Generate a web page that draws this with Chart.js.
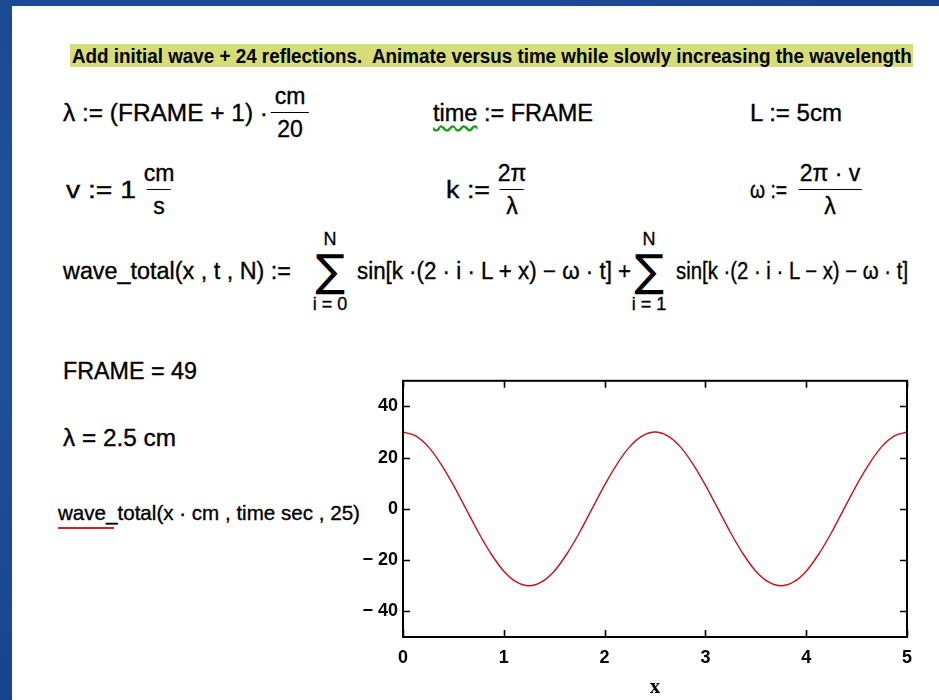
<!DOCTYPE html>
<html>
<head>
<meta charset="utf-8">
<script src="https://cdn.jsdelivr.net/npm/chart.js@4.4.0/dist/chart.umd.min.js"></script>
<style>
    html, body { margin: 0; padding: 0; }
    body {
        width: 939px; height: 700px; overflow: hidden; position: relative;
        background: radial-gradient(ellipse at 30% 40%, #2457a3 0%, #1a4a93 55%, #143f86 100%);
        font-family: "Liberation Sans", Arial, sans-serif;
    }
    #sheet { position: absolute; left: 12px; top: 6px; width: 927px; height: 694px; background: #fff; }
    .t { position: absolute; font-size: 23px; color: #000; white-space: pre; line-height: 1; transform-origin: 0 50%; transform: translateY(-50%); -webkit-text-stroke: 0.35px #000; }
    .frac { position: absolute; display: flex; flex-direction: column; align-items: center; transform: translate(-50%, -50%); font-size: 23px; -webkit-text-stroke: 0.35px #000; line-height: 1; white-space: pre; }
    .frac .num { padding-bottom: 4px; }
    .frac .den { padding-top: 5px; border-top: 1.5px solid #000; }
    .c { position: absolute; transform: translate(-50%, -50%); font-size: 18px; line-height: 1; white-space: pre; -webkit-text-stroke: 0.3px #000; }
    .sig { position: absolute; transform: translate(-50%, -50%); font-size: 44px; line-height: 1; font-family: "DejaVu Sans", sans-serif; }
    #note {
        position: absolute; left: 70px; top: 44px; width: 843px; height: 23px; background: #d5dc78;
    }
    #note span {
        position: absolute; left: 2px; top: 50%; transform-origin: 0 50%; transform: translateY(-50%);
        font-family: "Liberation Sans", Arial, sans-serif; font-weight: bold; font-size: 20px;
        line-height: 1; white-space: pre; color: #000;
    }
    #chartBox { position: absolute; left: 340px; top: 365px; width: 590px; height: 335px; }
</style>
</head>
<body>
<div id="sheet"></div>
<div id="note"><span class="fit" data-w="840">Add initial wave + 24 reflections.  Animate versus time while slowly increasing the wavelength</span></div>

<div class="t fit" data-w="205" style="left:63px; top:113px;">λ := (FRAME + 1) ·</div>
<div class="frac" style="left:290px; top:113px;"><span class="num">cm</span><span class="den"> 20 </span></div>
<div class="t fit" data-w="160" style="left:433px; top:113px;"><span style="text-decoration: underline wavy #1a9a1a; text-underline-offset: 4px;">time</span> := FRAME</div>
<div class="t fit" data-w="92" style="left:750px; top:113px;">L := 5cm</div>

<div class="t fit" data-w="70" style="left:66px; top:190px;">v := 1</div>
<div class="frac" style="left:159px; top:190px;"><span class="num">cm</span><span class="den"> s </span></div>
<div class="t fit" data-w="44" style="left:446px; top:190px;">k :=</div>
<div class="frac" style="left:512px; top:190px;"><span class="num">2π</span><span class="den"> λ </span></div>
<div class="t fit" data-w="37" style="left:750px; top:190px;">ω :=</div>
<div class="frac" style="left:830px; top:190px;"><span class="num">2π · v</span><span class="den">    λ    </span></div>

<div class="t fit" data-w="228" style="left:63px; top:271px;">wave_total(x , t , N) :=</div>
<div class="c" style="left:330px; top:239px;">N</div>
<div class="sig" style="left:330px; top:271px;">∑</div>
<div class="c" style="left:330px; top:304px;">i = 0</div>
<div class="t fit" data-w="274" style="left:357px; top:271px;">sin[k ·(2 · i · L + x) − ω · t] +</div>
<div class="c" style="left:649px; top:239px;">N</div>
<div class="sig" style="left:649px; top:271px;">∑</div>
<div class="c" style="left:649px; top:304px;">i = 1</div>
<div class="t fit" data-w="232" style="left:676px; top:271px;">sin[k ·(2 · i · L − x) − ω · t]</div>

<div class="t fit" data-w="134" style="left:63px; top:371px;">FRAME = 49</div>
<div class="t fit" data-w="113" style="left:63px; top:438px;">λ = 2.5 cm</div>
<div class="t fit" data-w="302" style="left:58px; top:512px; font-size:21px;">wave_total(x · cm , time sec , 25)</div>
<div style="position:absolute; left:58px; top:527px; width:56px; height:2px; background:#d42020;"></div>

<div id="chartBox"><canvas id="waveChart" width="590" height="335"></canvas></div>

<script>
    // x positions (cm) and wave_total values
    const xValues = [
        0, 0.125, 0.25, 0.375, 0.5, 0.625, 0.75, 0.875, 1, 1.125,
        1.25, 1.375, 1.5, 1.625, 1.75, 1.875, 2, 2.125, 2.25, 2.375,
        2.5, 2.625, 2.75, 2.875, 3, 3.125, 3.25, 3.375, 3.5, 3.625,
        3.75, 3.875, 4, 4.125, 4.25, 4.375, 4.5, 4.625, 4.75, 4.875, 5
    ];
    const waveValues = [
        30, 28.5, 24.3, 17.6, 9.3, 0, -9.3, -17.6, -24.3, -28.5,
        -30, -28.5, -24.3, -17.6, -9.3, 0, 9.3, 17.6, 24.3, 28.5,
        30, 28.5, 24.3, 17.6, 9.3, 0, -9.3, -17.6, -24.3, -28.5,
        -30, -28.5, -24.3, -17.6, -9.3, 0, 9.3, 17.6, 24.3, 28.5, 30
    ];
    const xTicks = [0, 1, 2, 3, 4, 5];
    const yTicks = [-40, -20, 0, 20, 40];

    // squeeze each text block to the width it has in the worksheet
    document.querySelectorAll('.fit').forEach((el) => {
        const w = el.getBoundingClientRect().width;
        const s = Number(el.dataset.w) / w;
        el.style.transform = 'translateY(-50%) scaleX(' + s.toFixed(3) + ')';
    });

    // Mathcad style frame with inward ticks on all four sides
    const framePlugin = {
        id: 'frame',
        afterDraw(chart) {
            const { ctx, chartArea: { left, right, top, bottom }, scales: { x, y } } = chart;
            const len = 7;
            ctx.save();
            ctx.strokeStyle = '#000';
            ctx.lineWidth = 1.6;
            xTicks.forEach((v) => {
                const px = Math.round(x.getPixelForValue(v)) + 0.5;
                ctx.beginPath();
                ctx.moveTo(px, bottom); ctx.lineTo(px, bottom - len);
                ctx.moveTo(px, top); ctx.lineTo(px, top + len);
                ctx.stroke();
            });
            yTicks.forEach((v) => {
                const py = Math.round(y.getPixelForValue(v)) + 0.5;
                ctx.beginPath();
                ctx.moveTo(left, py); ctx.lineTo(left + len, py);
                ctx.moveTo(right, py); ctx.lineTo(right - len, py);
                ctx.stroke();
            });
            ctx.lineWidth = 2;
            ctx.strokeRect(left, top, right - left, bottom - top);
            ctx.restore();
        }
    };

    const tickFont = { family: 'Arial, "Liberation Sans", sans-serif', size: 18, weight: 'bold' };

    const chartCtx = document.getElementById('waveChart').getContext('2d');
    new Chart(chartCtx, {
        type: 'line',
        data: {
            datasets: [{
                data: xValues.map((x, i) => ({ x: x, y: waveValues[i] })),
                borderColor: '#c8101a',
                borderWidth: 1.4,
                pointRadius: 0,
                cubicInterpolationMode: 'monotone',
                fill: false
            }]
        },
        options: {
            responsive: false,
            animation: false,
            layout: { padding: { top: 15, right: 23, left: 0, bottom: 0 } },
            plugins: { legend: { display: false }, tooltip: { enabled: false } },
            scales: {
                x: {
                    type: 'linear', min: 0, max: 5,
                    afterBuildTicks: (s) => { s.ticks = xTicks.map((v) => ({ value: v })); },
                    afterFit: (s) => { s.height = 63; },
                    grid: { display: false, drawTicks: false },
                    border: { display: false },
                    ticks: { color: '#000', font: tickFont, padding: 10, maxRotation: 0 },
                    title: {
                        display: true, text: 'x', color: '#000',
                        font: { family: '"Liberation Serif", "Times New Roman", serif', size: 21, weight: 'bold' },
                        padding: { top: 0, bottom: 0 }
                    }
                },
                y: {
                    type: 'linear', min: -50, max: 50,
                    afterBuildTicks: (s) => { s.ticks = yTicks.map((v) => ({ value: v })); },
                    afterFit: (s) => { s.width = 63; },
                    grid: { display: false, drawTicks: false },
                    border: { display: false },
                    ticks: {
                        color: '#000', font: tickFont, padding: 5,
                        callback: (v) => (v < 0 ? '\u2212 ' + Math.abs(v) : String(v))
                    }
                }
            }
        },
        plugins: [framePlugin]
    });
</script>
</body>
</html>
